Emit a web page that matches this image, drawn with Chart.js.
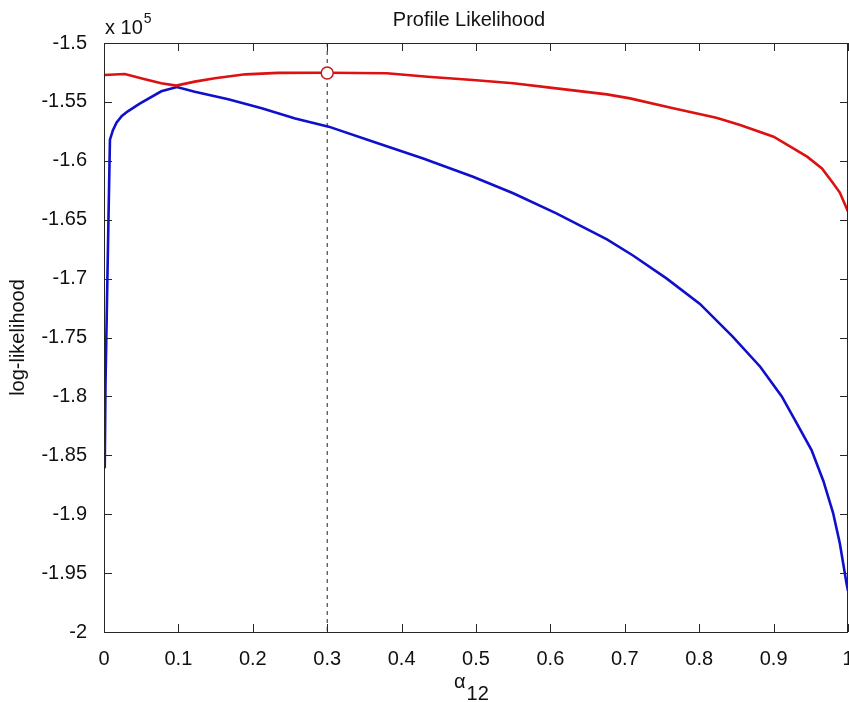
<!DOCTYPE html>
<html><head><meta charset="utf-8">
<script src="https://cdn.jsdelivr.net/npm/chart.js@4"></script>
<style>html,body{margin:0;padding:0;background:#fff}#wrap{width:849px;height:702px}</style>
</head><body><div id="wrap"><canvas id="c" width="849" height="702"></canvas></div>
<script>
// values in units of 10^5
const redAlpha = [0, 0.028, 0.055, 0.077, 0.097, 0.122, 0.149, 0.19, 0.234, 0.3, 0.38, 0.435, 0.496, 0.55, 0.608, 0.676, 0.707, 0.765, 0.823, 0.855, 0.9, 0.945, 0.965, 0.98, 0.989, 1.0];
const redLL = [-1.5272, -1.5263, -1.5308, -1.5342, -1.5362, -1.5328, -1.5299, -1.5266, -1.5254, -1.5252, -1.5257, -1.5286, -1.5314, -1.5342, -1.5385, -1.5436, -1.547, -1.5554, -1.5634, -1.5696, -1.5795, -1.5965, -1.6065, -1.619, -1.627, -1.643];
const blueAlpha = [0.001, 0.002, 0.004, 0.006, 0.008, 0.012, 0.017, 0.024, 0.032, 0.048, 0.077, 0.098, 0.122, 0.167, 0.212, 0.257, 0.302, 0.362, 0.429, 0.496, 0.55, 0.608, 0.676, 0.711, 0.756, 0.801, 0.845, 0.882, 0.911, 0.931, 0.951, 0.967, 0.98, 0.989, 0.998, 1.0];
const blueLL = [-1.861, -1.79, -1.72, -1.65, -1.582, -1.574, -1.5675, -1.562, -1.558, -1.5515, -1.541, -1.5374, -1.5413, -1.5478, -1.5554, -1.564, -1.571, -1.5838, -1.598, -1.6135, -1.6276, -1.6446, -1.6667, -1.6804, -1.6998, -1.7215, -1.7493, -1.7748, -1.800, -1.8226, -1.8455, -1.872, -1.899, -1.9247, -1.9587, -1.965];
const mleAlpha = [0.3];
const mleLL = [-1.5255];
const xTickValues = [0, 0.1, 0.2, 0.3, 0.4, 0.5, 0.6, 0.7, 0.8, 0.9, 1];
const xTickLabels = ['0', '0.1', '0.2', '0.3', '0.4', '0.5', '0.6', '0.7', '0.8', '0.9', '1'];
const yTickValues = [-2, -1.95, -1.9, -1.85, -1.8, -1.75, -1.7, -1.65, -1.6, -1.55, -1.5];
const yTickLabels = ['-2', '-1.95', '-1.9', '-1.85', '-1.8', '-1.75', '-1.7', '-1.65', '-1.6', '-1.55', '-1.5'];
const titleText = 'Profile Likelihood';
const yTitleText = 'log-likelihood';
const xTitleMain = 'α';
const xTitleSub = '12';
const expMain = 'x 10';
const expSup = '5';

const FONT = "'Liberation Sans', Arial, Helvetica, sans-serif";
const AX = '#262626';

const toPts = (xs, ys) => xs.map((x, i) => ({x: x, y: ys[i]}));

const framePlugin = {
  id: 'frame',
  afterDraw(chart) {
    const {ctx, chartArea: a, scales} = chart;
    const xs = scales.x, ys = scales.y;
    ctx.save();
    ctx.strokeStyle = AX;
    ctx.lineWidth = 1;
    ctx.beginPath();
    ctx.rect(Math.round(a.left) + 0.5, Math.round(a.top) + 0.5, Math.round(a.right - a.left) - 1, Math.round(a.bottom - a.top));
    ctx.stroke();
    const L = 8;
    ctx.beginPath();
    xTickValues.forEach(v => {
      const px = Math.round(xs.getPixelForValue(v)) + 0.5;
      ctx.moveTo(px, a.bottom); ctx.lineTo(px, a.bottom - L);
      ctx.moveTo(px, a.top); ctx.lineTo(px, a.top + L);
    });
    yTickValues.forEach(v => {
      const py = Math.round(ys.getPixelForValue(v)) + 0.5;
      ctx.moveTo(a.left, py); ctx.lineTo(a.left + L, py);
      ctx.moveTo(a.right, py); ctx.lineTo(a.right - L, py);
    });
    ctx.stroke();
    // texts
    ctx.fillStyle = '#111';
    ctx.textBaseline = 'alphabetic';
    ctx.font = '20px ' + FONT;
    ctx.textAlign = 'center';
    ctx.fillText(titleText, (a.left + a.right) / 2 - 7, 26);
    ctx.textAlign = 'left';
    ctx.fillText(expMain, a.left + 1, 34);
    const w = ctx.measureText(expMain).width;
    ctx.font = '14px ' + FONT;
    ctx.fillText(expSup, a.left + 2 + w, 23);
    // x title
    const cx = (a.left + a.right) / 2 - 22;
    ctx.font = '20px ' + FONT;
    ctx.fillText(xTitleMain, cx, 688);
    const wa = ctx.measureText(xTitleMain).width;
    ctx.fillText(xTitleSub, cx + wa + 1, 700);
    ctx.restore();
  }
};

new Chart(document.getElementById('c'), {
  type: 'line',
  data: {
    datasets: [
      { data: toPts(mleAlpha, mleLL), showLine: false, pointRadius: 6, pointBackgroundColor: '#ffffff', pointBorderColor: '#c41a1a', pointBorderWidth: 1.5, order: 0 },
      { data: toPts(redAlpha, redLL), borderColor: '#dd1111', borderWidth: 2.6, pointRadius: 0, order: 1 },
      { data: toPts(blueAlpha, blueLL), borderColor: '#0f0fcc', borderWidth: 2.6, pointRadius: 0, order: 2 },
      { data: toPts([mleAlpha[0], mleAlpha[0]], [-1.5, -2]), borderColor: '#222', borderWidth: 1, borderDash: [4, 4], pointRadius: 0, order: 3 }
    ]
  },
  options: {
    responsive: false,
    animation: false,
    devicePixelRatio: 1,
    events: [],
    layout: { autoPadding: false, padding: { top: 43, right: 1, left: 0, bottom: 0 } },
    plugins: { legend: { display: false }, tooltip: { enabled: false }, title: { display: false } },
    scales: {
      x: {
        type: 'linear', min: 0, max: 1,
        grid: { display: false },
        border: { display: false },
        afterBuildTicks: s => { s.ticks = xTickValues.map(v => ({ value: v })); },
        ticks: { color: '#111', font: { family: FONT, size: 20 }, padding: 7, maxRotation: 0, autoSkip: false,
          callback: (v, i) => xTickLabels[i] },
        afterFit: s => { s.height = 70; s.paddingLeft = 0; s.paddingRight = 0; }
      },
      y: {
        type: 'linear', min: -2, max: -1.5,
        grid: { display: false },
        border: { display: false },
        afterBuildTicks: s => { s.ticks = yTickValues.map(v => ({ value: v })); },
        ticks: { color: '#111', font: { family: FONT, size: 20 }, padding: 9, autoSkip: false,
          callback: (v, i) => yTickLabels[i] },
        title: { display: true, text: yTitleText, color: '#111', font: { family: FONT, size: 20 }, padding: { top: 6, bottom: 0 } },
        afterFit: s => { s.width = 104; s.paddingTop = 0; s.paddingBottom = 0; }
      }
    }
  },
  plugins: [framePlugin]
});
</script>
</body></html>
